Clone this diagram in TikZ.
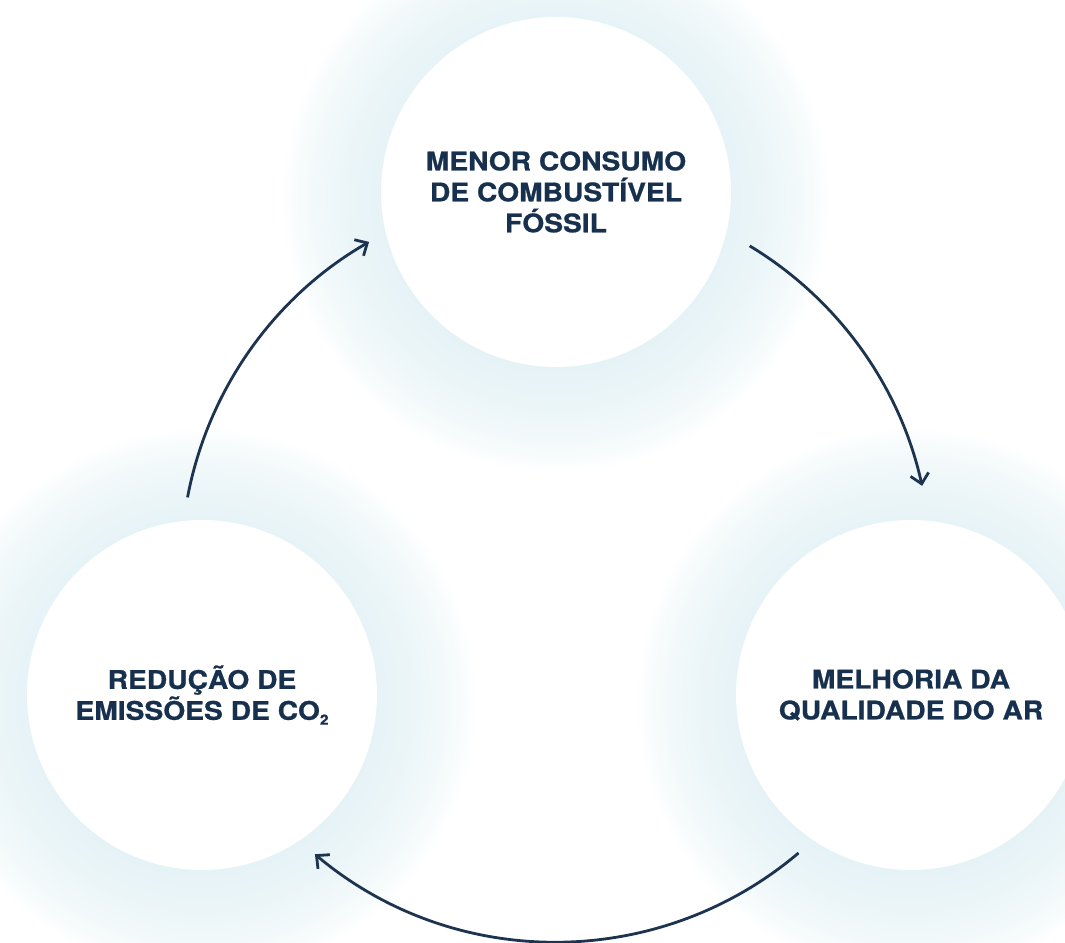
\documentclass[tikz,border=0pt]{standalone}
\usepackage{fontspec}
\newfontfamily\vfont{TeX Gyre Heros}[FakeStretch=1.1,FakeBold=0.8]
\usetikzlibrary{arrows.meta,calc,backgrounds}
\definecolor{vnavy}{HTML}{16304D}
\definecolor{vline}{HTML}{1D3450}
\definecolor{vglow}{HTML}{E0F0F4}
\tikzset{
  vbubble/.style={
    circle, fill=white, minimum size=7cm, inner sep=0pt,
    text=vnavy, align=center,
    font=\vfont\bfseries\fontsize{14.6}{17.6}\selectfont},
  vhalo/.style={fill=vglow, opacity=0.055},
  vflow/.style={-{Straight Barb[length=5.5pt,width=10.5pt]}, draw=vline,
    line width=1.6pt},
}

\begin{document}
\begin{tikzpicture}[x=0.02cm,y=0.02cm]
\useasboundingbox (0,0) rectangle (1065,943);

% the three stages
\node[vbubble] (fuel) at (556,751)
  {MENOR CONSUMO\\DE COMBUSTÍVEL\\FÓSSIL};
\node[vbubble] (air) at (911,248)
  {MELHORIA DA\\QUALIDADE DO AR};
\node[vbubble] (co2) at (202,248)
  {REDUÇÃO DE\\EMISSÕES DE CO\raisebox{-0.35ex}{\footnotesize 2}};

% soft halo behind each circle
\begin{pgfonlayer}{background}
  \foreach \n in {fuel,air,co2}
    \foreach \k in {1,...,28}
      \fill[vhalo] ([yshift=-4]\n.center) circle[radius=172+3.6*\k];
\end{pgfonlayer}

% the cycle
\coordinate (hub) at (556,376);
\draw[vflow] ($(hub)+(169.3:375)$) arc[start angle=169.3,end angle=119.9,radius=375];
\draw[vflow] ($(hub)+(58.9:375)$) arc[start angle=58.9,end angle=12.5,radius=375];
\draw[vflow] ($(hub)+(-49.7:375)$) arc[start angle=-49.7,end angle=-130,radius=375];

\end{tikzpicture}
\end{document}
